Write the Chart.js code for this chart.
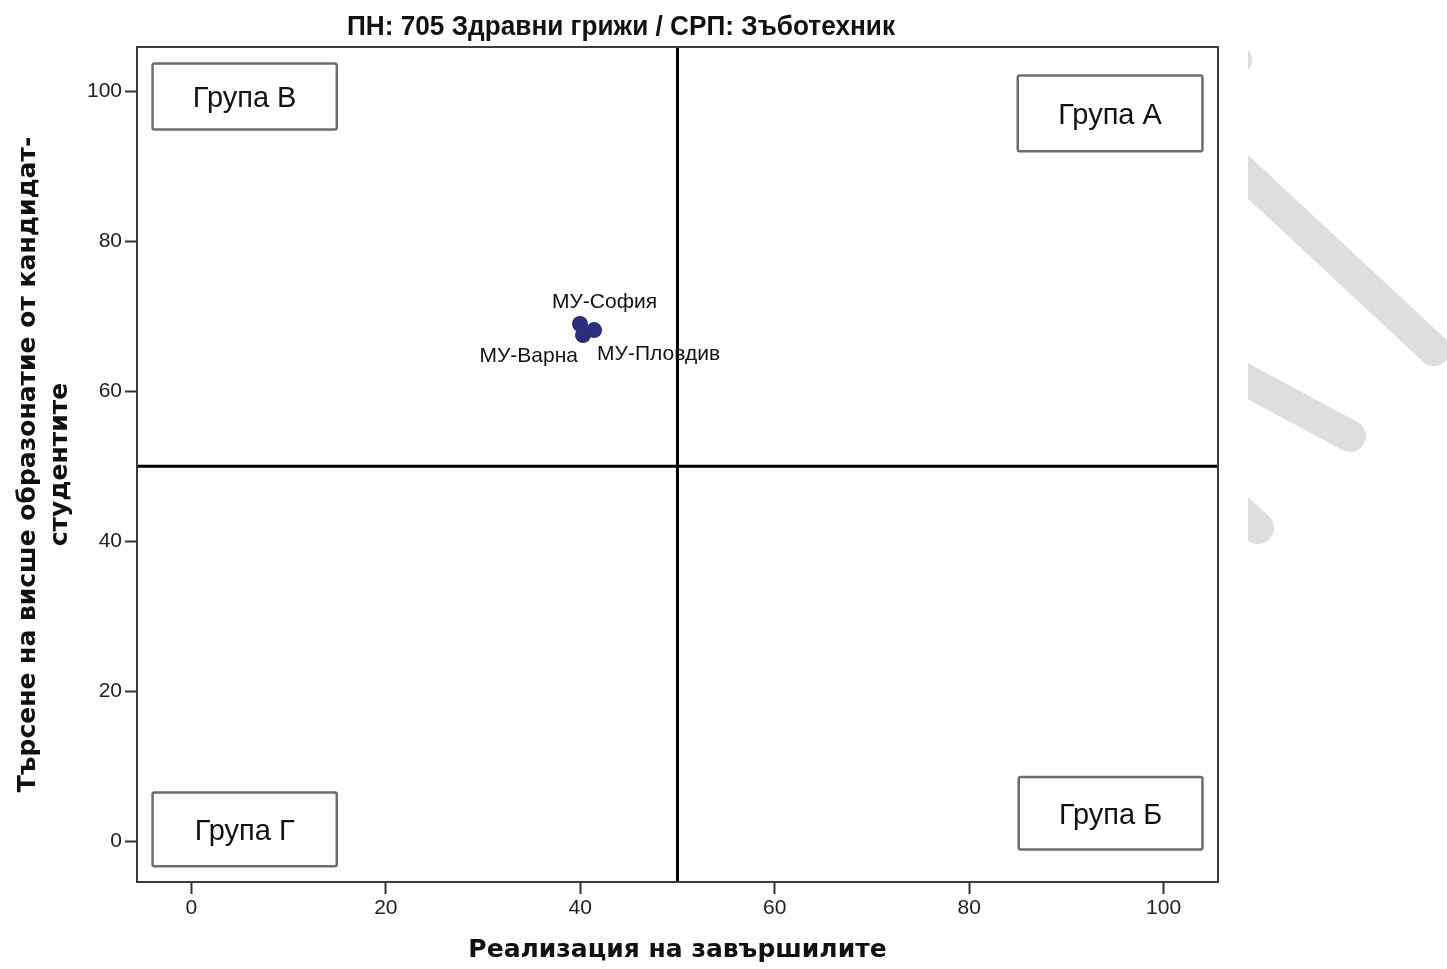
<!DOCTYPE html>
<html>
<head>
<meta charset="utf-8">
<script src="https://cdn.jsdelivr.net/npm/chart.js@4/dist/chart.umd.min.js"></script>
<style>
  html, body { margin: 0; padding: 0; background: #fff; }
  #wrap { position: relative; width: 1447px; height: 969px; }
</style>
</head>
<body>
<div id="wrap"><canvas id="c"></canvas></div>
<script>
// ---- data ----
const chartTitle = 'ПН: 705 Здравни грижи / СРП: Зъботехник';
const xAxisTitle = 'Реализация на завършилите';
const yAxisTitle = ['Търсене на висше образонатие от кандидат-', 'студентите'];
const institutions = ['МУ-София', 'МУ-Пловдив', 'МУ-Варна'];
const realization = [39.97, 41.42, 40.28];
const demand = [68.96, 68.15, 67.49];
const xTicks = [0, 20, 40, 60, 80, 100];
const yTicks = [0, 20, 40, 60, 80, 100];
const thresholdX = 50;
const thresholdY = 50;
const groupNames = ['Група В', 'Група А', 'Група Г', 'Група Б'];

// ---- annotation layout (data units) ----
const groupBoxes = [
  { x1: -4.0, x2: 14.95, y1: 103.7, y2: 94.9 },
  { x1: 85.0, x2: 104.0, y1: 102.1, y2: 92.0 },
  { x1: -4.0, x2: 14.95, y1: 6.5, y2: -3.35 },
  { x1: 85.1, x2: 104.0, y1: 8.55, y2: -1.1 }
];
// label placement relative to point (pixels)
const labelPlacement = [
  { dx: -28, dy: -16, align: 'left' },
  { dx: 3, dy: 30, align: 'left' },
  { dx: -5, dy: 27, align: 'right' }
];

const points = realization.map((x, i) => ({ x: x, y: demand[i] }));

const decorPlugin = {
  id: 'decor',
  beforeDraw(chart) {
    const ctx = chart.ctx;
    ctx.save();
    ctx.beginPath();
    ctx.rect(1248, 0, 200, 969);
    ctx.clip();
    ctx.strokeStyle = '#dedede';
    ctx.lineCap = 'round';
    ctx.lineWidth = 32;
    const segs = [
      [[1236, 60], [1100, -70]],
      [[1160, 95], [1434, 350]],
      [[1150, 329], [1350, 436]],
      [[1150, 428], [1258, 528]]
    ];
    segs.forEach(s => {
      ctx.beginPath();
      ctx.moveTo(s[0][0], s[0][1]);
      ctx.lineTo(s[1][0], s[1][1]);
      ctx.stroke();
    });
    ctx.restore();
    // chart title
    ctx.save();
    ctx.fillStyle = '#111';
    ctx.font = "bold 27px 'Liberation Sans Narrow', 'Liberation Sans', Arial, sans-serif";
    ctx.textAlign = 'center';
    ctx.textBaseline = 'alphabetic';
    ctx.fillText(chartTitle, 621, 35, 548);
    ctx.restore();
  },
  beforeDatasetsDraw(chart) {
    const ctx = chart.ctx;
    const xs = chart.scales.x, ys = chart.scales.y;
    const a = chart.chartArea;
    ctx.save();
    // group boxes
    ctx.strokeStyle = '#6e6e6e';
    ctx.lineWidth = 2.5;
    ctx.fillStyle = '#111';
    ctx.font = "29px 'Liberation Sans', Arial, sans-serif";
    ctx.textAlign = 'center';
    ctx.textBaseline = 'alphabetic';
    groupBoxes.forEach((b, i) => {
      const l = xs.getPixelForValue(b.x1), r = xs.getPixelForValue(b.x2);
      const t = ys.getPixelForValue(b.y1), bt = ys.getPixelForValue(b.y2);
      ctx.beginPath();
      if (ctx.roundRect) ctx.roundRect(l, t, r - l, bt - t, 2); else ctx.rect(l, t, r - l, bt - t);
      ctx.stroke();
      ctx.fillText(groupNames[i], (l + r) / 2, (t + bt) / 2 + 11);
    });
    // threshold lines
    ctx.strokeStyle = '#000';
    ctx.lineWidth = 3;
    const px = xs.getPixelForValue(thresholdX), py = ys.getPixelForValue(thresholdY);
    ctx.beginPath();
    ctx.moveTo(px, a.top); ctx.lineTo(px, a.bottom);
    ctx.moveTo(a.left, py); ctx.lineTo(a.right, py);
    ctx.stroke();
    ctx.restore();
  },
  afterDatasetsDraw(chart) {
    const ctx = chart.ctx;
    const a = chart.chartArea;
    const meta = chart.getDatasetMeta(0);
    ctx.save();
    ctx.fillStyle = '#111';
    ctx.font = "21px 'Liberation Sans', Arial, sans-serif";
    ctx.textBaseline = 'alphabetic';
    meta.data.forEach((el, i) => {
      const p = labelPlacement[i];
      ctx.textAlign = p.align;
      ctx.fillText(institutions[i], el.x + p.dx, el.y + p.dy);
    });
    // frame
    ctx.strokeStyle = '#3c3c3c';
    ctx.lineWidth = 2;
    ctx.strokeRect(a.left, a.top, a.right - a.left, a.bottom - a.top);
    ctx.restore();
  }
};

new Chart(document.getElementById('c'), {
  type: 'scatter',
  data: {
    datasets: [{
      label: 'ВУ',
      data: points,
      backgroundColor: '#2B2E7D',
      borderColor: '#2B2E7D',
      borderWidth: 0,
      pointRadius: 8,
      pointHoverRadius: 8
    }]
  },
  options: {
    responsive: true,
    maintainAspectRatio: false,
    devicePixelRatio: 1,
    animation: false,
    events: [],
    layout: { padding: { top: 47, right: 229, bottom: 0, left: 0 } },
    plugins: { legend: { display: false }, tooltip: { enabled: false }, title: { display: false } },
    scales: {
      x: {
        type: 'linear',
        min: -5.6,
        max: 105.6,
        afterBuildTicks: s => { s.ticks = xTicks.map(v => ({ value: v })); },
        afterFit: s => { s.height = 87; },
        border: { display: false },
        grid: { display: true, drawOnChartArea: false, drawTicks: true, tickLength: 12, tickColor: '#333', tickWidth: 2 },
        ticks: { color: '#222', padding: 2, maxRotation: 0, font: { family: "'Liberation Sans', Arial, sans-serif", size: 21 } },
        title: {
          display: true,
          text: xAxisTitle,
          color: '#111',
          padding: { top: 0, bottom: 3 },
          font: { family: "'DejaVu Sans', sans-serif", size: 25, weight: 'bold', lineHeight: 1.28 }
        }
      },
      y: {
        type: 'linear',
        min: -5.45,
        max: 105.9,
        afterBuildTicks: s => { s.ticks = yTicks.map(v => ({ value: v })); },
        afterFit: s => { s.width = 137; },
        border: { display: false },
        grid: { display: true, drawOnChartArea: false, drawTicks: true, tickLength: 12, tickColor: '#333', tickWidth: 2 },
        ticks: { color: '#222', padding: 3, font: { family: "'Liberation Sans', Arial, sans-serif", size: 21 } },
        title: {
          display: true,
          text: yAxisTitle,
          color: '#111',
          padding: { top: 12, bottom: 0 },
          font: { family: "'DejaVu Sans', sans-serif", size: 25, weight: 'bold', lineHeight: 1.28 }
        }
      }
    }
  },
  plugins: [decorPlugin]
});
</script>
</body>
</html>
